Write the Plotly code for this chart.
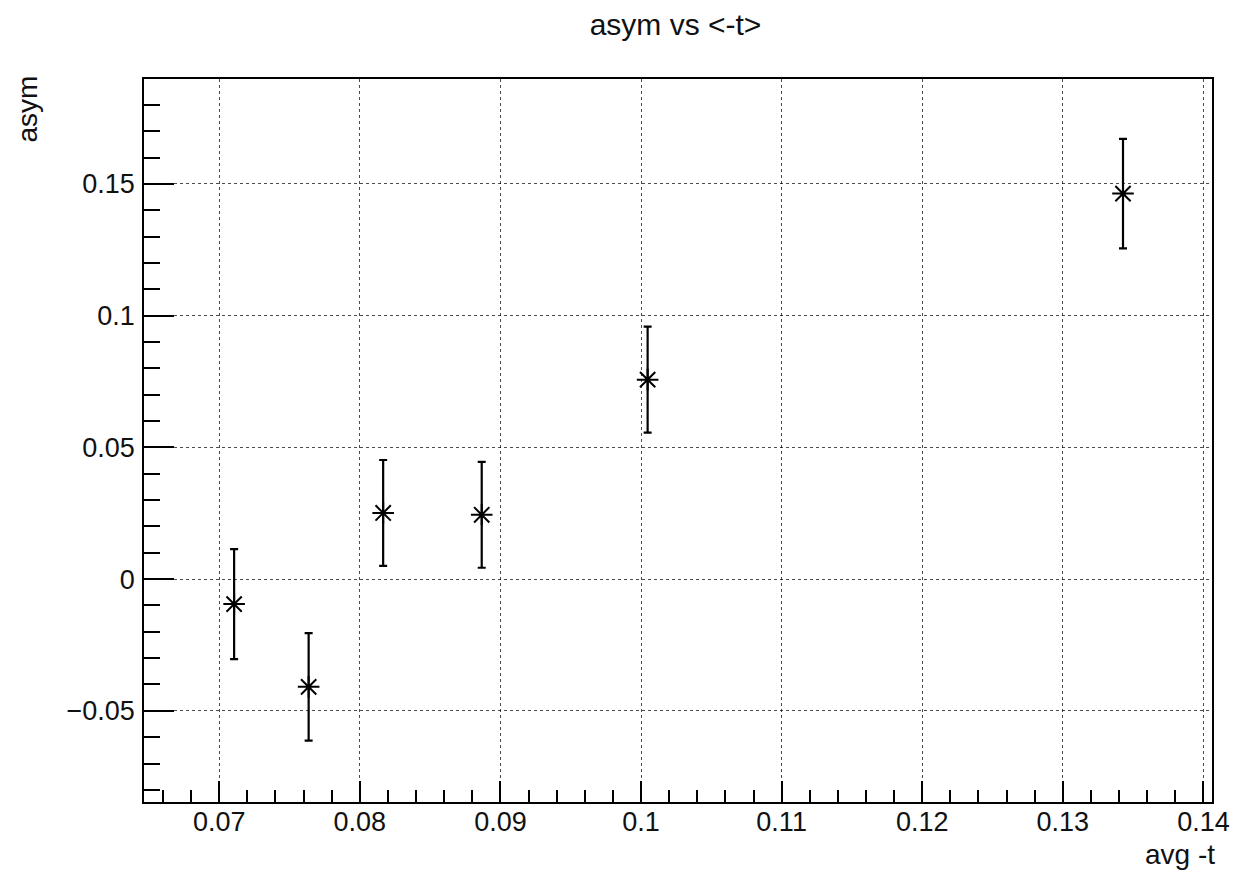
import plotly.graph_objects as go

# ---- data ----
avg_t = [0.07106, 0.07636, 0.08166, 0.08867, 0.10047, 0.13428]
asym = [-0.0095, -0.0409, 0.0251, 0.0244, 0.0757, 0.1463]
asym_err = [0.0209, 0.0204, 0.0201, 0.0201, 0.0201, 0.0208]

x_tick_vals = [0.07, 0.08, 0.09, 0.10, 0.11, 0.12, 0.13, 0.14]
x_tick_text = ["0.07", "0.08", "0.09", "0.1", "0.11", "0.12", "0.13", "0.14"]
y_tick_vals = [-0.05, 0.0, 0.05, 0.10, 0.15]
y_tick_text = ["\u22120.05", "0", "0.05", "0.1", "0.15"]

title_text = "asym vs &lt;-t&gt;"
x_title = "avg -t"
y_title = "asym"

FONT = "Liberation Sans, Arial, Helvetica, sans-serif"

# the page body has an 8px margin; size the figure so the plot lands
# where the reference has it inside the 1242x872 window
W, H = 1234, 864

fig = go.Figure()
fig.add_trace(go.Scatter(
    x=avg_t, y=asym, mode="markers",
    marker=dict(symbol="asterisk-open", size=18, color="black",
                line=dict(color="black", width=2)),
    error_y=dict(type="data", array=asym_err, visible=True,
                 color="black", thickness=2.2, width=4),
    showlegend=False,
))

axis_common = dict(
    showline=True, linecolor="black", linewidth=1.5, mirror=True,
    ticks="inside", tickcolor="black", tickwidth=1.5,
    showgrid=True, gridcolor="rgba(0,0,0,0.7)", gridwidth=1, griddash="dot",
    zeroline=False,
    tickfont=dict(family=FONT, size=27, color="#111"),
    tickmode="array",
)

fig.update_xaxes(
    **axis_common,
    range=[0.06465, 0.14061],
    tickvals=x_tick_vals, ticktext=x_tick_text,
    ticklen=21, ticklabelstandoff=-5,
    minor=dict(tickmode="linear", tick0=0, dtick=0.002, ticks="inside",
               ticklen=12, tickcolor="black", tickwidth=1.5, showgrid=False),
)
fig.update_yaxes(
    **axis_common,
    range=[-0.0846, 0.1898],
    tickvals=y_tick_vals, ticktext=y_tick_text,
    ticklen=30, ticklabelstandoff=2,
    minor=dict(tickmode="linear", tick0=0, dtick=0.01, ticks="inside",
               ticklen=16, tickcolor="black", tickwidth=1.5, showgrid=False),
)

fig.update_layout(
    width=W, height=H,
    margin=dict(l=136, r=23, t=71, b=70),
    paper_bgcolor="white", plot_bgcolor="white",
    font=dict(family=FONT, color="#111"),
    title=dict(text=title_text, x=0.4977, xref="paper", y=1 - 16 / H,
               yref="container", xanchor="center", yanchor="middle",
               font=dict(family=FONT, size=30, color="#111")),
    annotations=[
        dict(text=x_title, xref="paper", yref="paper", x=1.005, y=-0.072,
             xanchor="right", yanchor="middle", showarrow=False,
             font=dict(family=FONT, size=28, color="#111")),
        dict(text=y_title, xref="paper", yref="paper", x=-0.1095, y=1.007,
             xanchor="center", yanchor="top", textangle=-90, showarrow=False,
             font=dict(family=FONT, size=28, color="#111")),
    ],
)

fig.write_html("out.html")
